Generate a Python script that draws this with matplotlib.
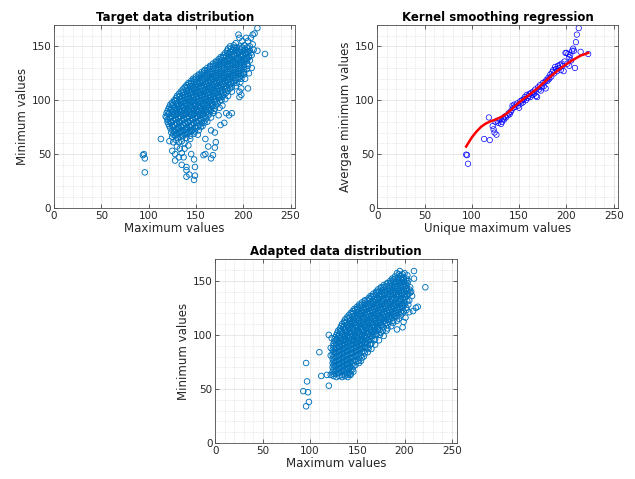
import matplotlib
matplotlib.use("Agg")
import matplotlib.pyplot as plt
from matplotlib.ticker import MultipleLocator

plt.rcParams['font.family'] = 'DejaVu Sans'

# target data (max, min)
target_points = [
    (215, 167), (210, 161), (212, 162), (195, 161),
    (196, 158), (203, 158), (208, 158), (199, 155), (205, 155), (192, 153), (210, 152),
    (186, 150), (190, 151), (193, 149), (197, 150), (201, 151), (204, 149), (207, 150), (215, 146), (223, 143), (211, 147),
    (183, 146), (186, 145), (189, 147), (192, 146), (195, 145), (198, 147), (201, 146), (204, 145), (207, 146),
    (179, 142), (182, 141), (185, 143), (188, 142), (191, 141), (194, 143), (197, 142), (200, 141), (203, 143), (206, 141), (209, 142),
    (174, 138), (177, 139), (180, 137), (183, 138), (186, 139), (189, 137), (192, 138), (195, 139), (198, 137), (201, 138), (204, 139), (207, 137),
    (168, 134), (171, 135), (174, 133), (177, 134), (180, 135), (183, 133), (186, 134), (189, 135), (192, 133), (195, 134), (198, 135), (201, 133), (204, 134),
    (162, 130), (165, 131), (168, 129), (171, 130), (174, 131), (177, 129), (180, 130), (183, 131), (186, 129), (189, 130), (192, 131), (195, 129), (198, 130), (201, 131), (204, 129), (209, 130), (205, 132),
    (156, 126), (159, 127), (162, 125), (165, 126), (168, 127), (171, 125), (174, 126), (177, 127), (180, 125), (183, 126), (186, 127), (189, 125), (192, 126), (195, 127), (198, 125), (201, 126), (206, 125), (200, 125),
    (150, 122), (153, 123), (156, 121), (159, 122), (162, 123), (165, 121), (168, 122), (171, 123), (174, 121), (177, 122), (180, 123), (183, 121), (186, 122), (189, 123), (192, 121), (195, 122), (198, 120), (202, 120),
    (145, 118), (148, 119), (151, 117), (154, 118), (157, 119), (160, 117), (163, 118), (166, 119), (169, 117), (172, 118), (175, 119), (178, 117), (181, 118), (184, 119), (187, 117), (190, 118), (193, 116), (197, 117),
    (140, 114), (143, 115), (146, 113), (149, 114), (152, 115), (155, 113), (158, 114), (161, 115), (164, 113), (167, 114), (170, 115), (173, 113), (176, 114), (179, 115), (182, 113), (185, 114), (188, 112), (192, 113), (198, 111), (205, 111),
    (136, 110), (139, 111), (142, 109), (145, 110), (148, 111), (151, 109), (154, 110), (157, 111), (160, 109), (163, 110), (166, 111), (169, 109), (172, 110), (175, 111), (178, 109), (181, 110), (184, 109), (188, 108), (196, 108),
    (132, 106), (135, 107), (138, 105), (141, 106), (144, 107), (147, 105), (150, 106), (153, 107), (156, 105), (159, 106), (162, 107), (165, 105), (168, 106), (171, 107), (174, 105), (177, 106), (180, 105), (184, 104), (198, 105),
    (129, 102), (132, 103), (135, 101), (138, 102), (141, 103), (144, 101), (147, 102), (150, 103), (153, 101), (156, 102), (159, 103), (162, 101), (165, 102), (168, 103), (171, 101), (174, 102), (177, 100), (181, 101), (196, 103),
    (125, 98), (128, 99), (131, 97), (134, 98), (137, 99), (140, 97), (143, 98), (146, 99), (149, 97), (152, 98), (155, 99), (158, 97), (161, 98), (164, 99), (167, 97), (170, 98), (173, 97), (178, 95),
    (122, 94), (125, 95), (128, 93), (131, 94), (134, 95), (137, 93), (140, 94), (143, 95), (146, 93), (149, 94), (152, 95), (155, 93), (158, 94), (161, 95), (164, 93), (167, 94), (170, 92), (175, 93),
    (120, 90), (123, 91), (126, 89), (129, 90), (132, 91), (135, 89), (138, 90), (141, 91), (144, 89), (147, 90), (150, 91), (153, 89), (156, 90), (159, 91), (162, 89), (165, 90), (168, 88), (174, 86),
    (118, 85), (121, 87), (124, 85), (127, 86), (130, 87), (133, 85), (136, 86), (139, 87), (142, 85), (145, 86), (148, 87), (151, 85), (154, 86), (157, 87), (160, 85), (163, 86), (166, 84), (182, 88), (188, 88), (185, 86),
    (120, 82), (123, 83), (126, 81), (129, 82), (132, 83), (135, 81), (138, 82), (141, 83), (144, 81), (147, 82), (150, 83), (153, 81), (156, 82), (159, 81), (162, 80), (180, 79),
    (121, 78), (124, 79), (127, 77), (130, 78), (133, 79), (136, 77), (139, 78), (142, 79), (145, 77), (148, 78), (151, 79), (154, 77), (157, 76), (176, 77),
    (123, 74), (126, 75), (129, 73), (132, 74), (135, 75), (138, 73), (141, 74), (144, 75), (147, 73), (150, 74), (153, 72), (166, 72), (170, 70),
    (124, 70), (127, 71), (130, 69), (133, 70), (136, 71), (139, 69), (142, 70), (145, 71), (148, 69), (152, 68),
    (125, 66), (128, 67), (131, 65), (134, 66), (137, 67), (140, 65), (144, 64), (160, 64),
    (122, 62), (126, 61), (129, 63), (132, 61), (135, 62), (138, 60), (142, 58), (113, 64), (171, 61), (163, 57),
    (125, 53), (128, 50), (128, 44), (132, 47), (135, 40), (137, 47), (140, 38), (140, 35), (140, 29), (143, 31),
    (148, 26), (149, 30), (149, 38), (148, 45), (145, 50), (133, 55), (138, 55), (158, 49), (160, 50), (166, 46),
    (168, 49), (170, 56), (135, 51), (130, 57),
    (95, 50), (94, 49), (96, 46), (96, 33),
]

# more target points in the dense core (between the rows above)
target_fill = [
    (184, 148), (187, 148), (190, 149), (193, 147), (196, 148), (199, 149), (202, 147), (205, 148),
    (181, 144), (184, 144), (187, 145), (190, 143), (193, 144), (196, 145), (199, 143), (202, 144), (205, 145), (208, 144),
    (176, 140), (179, 140), (182, 141), (185, 139), (188, 140), (191, 141), (194, 139), (197, 140), (200, 141), (203, 139), (206, 140),
    (171, 136), (174, 136), (177, 137), (180, 135), (183, 136), (186, 137), (189, 135), (192, 136), (195, 137), (198, 135), (201, 136), (204, 137),
    (165, 132), (168, 132), (171, 133), (174, 131), (177, 132), (180, 133), (183, 131), (186, 132), (189, 133), (192, 131), (195, 132), (198, 133), (201, 131),
    (159, 128), (162, 128), (165, 129), (168, 127), (171, 128), (174, 129), (177, 127), (180, 128), (183, 129), (186, 127), (189, 128), (192, 129), (195, 127), (198, 128), (201, 129),
    (153, 124), (156, 124), (159, 125), (162, 123), (165, 124), (168, 125), (171, 123), (174, 124), (177, 125), (180, 123), (183, 124), (186, 125), (189, 123), (192, 124), (195, 125), (198, 123), (201, 124),
    (147, 120), (150, 120), (153, 121), (156, 119), (159, 120), (162, 121), (165, 119), (168, 120), (171, 121), (174, 119), (177, 120), (180, 121), (183, 119), (186, 120), (189, 121), (192, 119), (195, 120),
    (142, 116), (145, 116), (148, 117), (151, 115), (154, 116), (157, 117), (160, 115), (163, 116), (166, 117), (169, 115), (172, 116), (175, 117), (178, 115), (181, 116), (184, 117), (187, 115), (190, 116),
    (138, 112), (141, 112), (144, 113), (147, 111), (150, 112), (153, 113), (156, 111), (159, 112), (162, 113), (165, 111), (168, 112), (171, 113), (174, 111), (177, 112), (180, 113), (183, 111), (186, 111),
    (134, 108), (137, 108), (140, 109), (143, 107), (146, 108), (149, 109), (152, 107), (155, 108), (158, 109), (161, 107), (164, 108), (167, 109), (170, 107), (173, 108), (176, 109), (179, 107), (182, 107),
    (130, 104), (133, 104), (136, 105), (139, 103), (142, 104), (145, 105), (148, 103), (151, 104), (154, 105), (157, 103), (160, 104), (163, 105), (166, 103), (169, 104), (172, 105), (175, 103), (178, 103),
    (127, 100), (130, 100), (133, 101), (136, 99), (139, 100), (142, 101), (145, 99), (148, 100), (151, 101), (154, 99), (157, 100), (160, 101), (163, 99), (166, 100), (169, 101), (172, 99), (175, 99),
    (123, 96), (126, 96), (129, 97), (132, 95), (135, 96), (138, 97), (141, 95), (144, 96), (147, 97), (150, 95), (153, 96), (156, 97), (159, 95), (162, 96), (165, 97), (168, 95), (171, 95),
    (121, 92), (124, 92), (127, 93), (130, 91), (133, 92), (136, 93), (139, 91), (142, 92), (145, 93), (148, 91), (151, 92), (154, 93), (157, 91), (160, 92), (163, 93), (166, 91), (169, 90),
    (119, 88), (122, 88), (125, 89), (128, 87), (131, 88), (134, 89), (137, 87), (140, 88), (143, 89), (146, 87), (149, 88), (152, 89), (155, 87), (158, 88), (161, 89), (164, 87),
    (119, 84), (122, 84), (125, 85), (128, 83), (131, 84), (134, 85), (137, 83), (140, 84), (143, 85), (146, 83), (149, 84), (152, 85), (155, 83), (158, 84), (161, 83),
    (120, 80), (123, 80), (126, 81), (129, 79), (132, 80), (135, 81), (138, 79), (141, 80), (144, 81), (147, 79), (150, 80), (153, 81), (156, 79), (159, 79),
    (122, 76), (125, 76), (128, 77), (131, 75), (134, 76), (137, 77), (140, 75), (143, 76), (146, 77), (149, 75), (152, 76), (155, 75),
    (125, 72), (128, 72), (131, 73), (134, 71), (137, 72), (140, 73), (143, 71), (146, 72), (149, 71),
    (126, 68), (129, 68), (132, 69), (135, 67), (138, 68), (141, 69), (144, 67),
]

# unique max values and the average min value for each
unique_max = [95, 94, 96, 113, 119, 118, 122, 123, 124, 126, 125, 127, 128, 130, 131, 132, 133, 134, 135, 136,
              138, 139, 140, 141, 142, 143, 144, 145, 146, 148, 149, 150, 151, 152, 153, 154, 155, 156, 157, 158,
              159, 160, 161, 162, 163, 164, 165, 166, 167, 168, 169, 170, 171, 172, 173, 174, 175, 176, 177, 178,
              179, 180, 181, 182, 183, 184, 185, 186, 187, 188, 189, 190, 191, 192, 193, 194, 195, 196, 197, 198,
              199, 200, 201, 202, 203, 204, 205, 206, 207, 208, 209, 210, 211, 213, 215, 223, 203]
avg_min = [49, 49.5, 41, 64, 63, 84, 76, 73, 70, 68, 80, 81, 79, 82, 78, 80, 83, 82, 85, 84,
           86, 88, 87, 89, 91, 95, 93, 96, 94, 97, 95, 93, 99, 97, 100, 98, 101, 103, 100, 105,
           102, 104, 106, 103, 107, 105, 108, 106, 110, 104, 103, 112, 110, 114, 109, 112, 116, 113, 117, 111,
           119, 118, 121, 120, 124, 122, 126, 128, 125, 131, 129, 127, 132, 130, 133, 128, 134, 132, 127, 136,
           144, 144, 134, 143, 140, 142, 137, 146, 148, 146, 130, 154, 161, 167, 145, 143, 132]

# kernel smoothing fit
fit_x = [94, 100, 105, 110, 115, 120, 125, 130, 135, 140, 145, 150, 155, 160,
         165, 170, 175, 180, 185, 190, 195, 200, 205, 210, 215, 220, 223]
fit_y = [57, 65.5, 71, 75.5, 78.5, 80.5, 82, 84, 86.5, 90, 94, 98, 101.5, 104.5,
         108, 111.5, 115.5, 119.5, 123.5, 127, 130.5, 133.5, 136.5, 139, 141.5, 143, 144]

# adapted data (max, min)
adapted_points = [
    (195, 159), (210, 159), (200, 157), (203, 155), (192, 157),
    (190, 154), (193, 153), (196, 155), (199, 153), (202, 152), (210, 152),
    (185, 150), (188, 151), (191, 149), (194, 150), (197, 151), (200, 149), (204, 150),
    (178, 146), (181, 147), (184, 145), (187, 146), (190, 147), (193, 145), (196, 146), (199, 147), (202, 145), (206, 144), (222, 144),
    (172, 142), (175, 143), (178, 141), (181, 142), (184, 143), (187, 141), (190, 142), (193, 143), (196, 141), (199, 142), (202, 143), (207, 140),
    (167, 138), (170, 139), (173, 137), (176, 138), (179, 139), (182, 137), (185, 138), (188, 139), (191, 137), (194, 138), (197, 139), (200, 137), (204, 138), (208, 136),
    (162, 134), (165, 135), (168, 133), (171, 134), (174, 135), (177, 133), (180, 134), (183, 135), (186, 133), (189, 134), (192, 135), (195, 133), (198, 134), (201, 135), (205, 132),
    (155, 130), (158, 131), (161, 129), (164, 130), (167, 131), (170, 129), (173, 130), (176, 131), (179, 129), (182, 130), (185, 131), (188, 129), (191, 130), (194, 131), (197, 129), (200, 130), (204, 128),
    (150, 126), (153, 127), (156, 125), (159, 126), (162, 127), (165, 125), (168, 126), (171, 127), (174, 125), (177, 126), (180, 127), (183, 125), (186, 126), (189, 127), (192, 125), (195, 126), (198, 127), (202, 125), (212, 125), (214, 126),
    (145, 122), (148, 123), (151, 121), (154, 122), (157, 123), (160, 121), (163, 122), (166, 123), (169, 121), (172, 122), (175, 123), (178, 121), (181, 122), (184, 123), (187, 121), (190, 122), (193, 123), (196, 121), (199, 122), (205, 121), (209, 122),
    (141, 118), (144, 119), (147, 117), (150, 118), (153, 119), (156, 117), (159, 118), (162, 119), (165, 117), (168, 118), (171, 119), (174, 117), (177, 118), (180, 119), (183, 117), (186, 118), (189, 119), (192, 117), (196, 118), (201, 116),
    (137, 114), (140, 115), (143, 113), (146, 114), (149, 115), (152, 113), (155, 114), (158, 115), (161, 113), (164, 114), (167, 115), (170, 113), (173, 114), (176, 115), (179, 113), (182, 114), (185, 115), (188, 113), (192, 113), (199, 112),
    (134, 110), (137, 111), (140, 109), (143, 110), (146, 111), (149, 109), (152, 110), (155, 111), (158, 109), (161, 110), (164, 111), (167, 109), (170, 110), (173, 111), (176, 109), (179, 110), (182, 109), (186, 108), (198, 107),
    (132, 106), (135, 107), (138, 105), (141, 106), (144, 107), (147, 105), (150, 106), (153, 107), (156, 105), (159, 106), (162, 107), (165, 105), (168, 106), (171, 107), (174, 105), (177, 104), (181, 104), (192, 105),
    (129, 102), (132, 103), (135, 101), (138, 102), (141, 103), (144, 101), (147, 102), (150, 103), (153, 101), (156, 102), (159, 103), (162, 101), (165, 102), (168, 103), (171, 101), (174, 100), (178, 99), (120, 100), (123, 97),
    (127, 98), (130, 99), (133, 97), (136, 98), (139, 99), (142, 97), (145, 98), (148, 99), (151, 97), (154, 98), (157, 99), (160, 97), (163, 98), (166, 99), (169, 96), (173, 95),
    (126, 94), (129, 95), (132, 93), (135, 94), (138, 95), (141, 93), (144, 94), (147, 95), (150, 93), (153, 94), (156, 95), (159, 93), (162, 94), (165, 92), (169, 91),
    (125, 90), (128, 91), (131, 89), (134, 90), (137, 91), (140, 89), (143, 90), (146, 91), (149, 89), (152, 90), (155, 91), (158, 89), (161, 88), (165, 87),
    (124, 86), (127, 87), (130, 85), (133, 86), (136, 87), (139, 85), (142, 86), (145, 87), (148, 85), (151, 86), (154, 87), (157, 85), (161, 84), (122, 88),
    (124, 82), (127, 83), (130, 81), (133, 82), (136, 83), (139, 81), (142, 82), (145, 83), (148, 81), (151, 82), (154, 81), (157, 80), (110, 84), (122, 81),
    (124, 78), (127, 79), (130, 77), (133, 78), (136, 79), (139, 77), (142, 78), (145, 79), (148, 77), (151, 76), (154, 76),
    (124, 74), (127, 75), (130, 73), (133, 74), (136, 75), (139, 73), (142, 74), (145, 73), (148, 72), (96, 74),
    (124, 70), (127, 71), (130, 69), (133, 70), (136, 71), (139, 69), (142, 70), (145, 68),
    (124, 66), (127, 67), (130, 65), (133, 66), (136, 67), (139, 65), (142, 65), (146, 66),
    (125, 62), (128, 61), (131, 62), (134, 61), (137, 62), (140, 61), (122, 63), (143, 63),
    (97, 57), (93, 48), (98, 47), (99, 38), (96, 34), (112, 62), (118, 63), (120, 53),
]

# more adapted points in the dense core
adapted_fill = [
    (194, 156), (198, 156),
    (187, 152), (190, 152), (193, 151), (196, 152), (199, 151), (202, 150),
    (182, 148), (185, 148), (188, 149), (191, 147), (194, 148), (197, 149), (200, 147), (203, 148),
    (175, 144), (178, 144), (181, 145), (184, 143), (187, 144), (190, 145), (193, 143), (196, 144), (199, 145), (202, 143), (205, 142),
    (170, 140), (173, 140), (176, 141), (179, 139), (182, 140), (185, 141), (188, 139), (191, 140), (194, 141), (197, 139), (200, 140), (203, 141), (206, 139),
    (164, 136), (167, 136), (170, 137), (173, 135), (176, 136), (179, 137), (182, 135), (185, 136), (188, 137), (191, 135), (194, 136), (197, 137), (200, 135), (203, 136),
    (158, 132), (161, 132), (164, 133), (167, 131), (170, 132), (173, 133), (176, 131), (179, 132), (182, 133), (185, 131), (188, 132), (191, 133), (194, 131), (197, 132), (200, 133), (203, 131),
    (152, 128), (155, 128), (158, 129), (161, 127), (164, 128), (167, 129), (170, 127), (173, 128), (176, 129), (179, 127), (182, 128), (185, 129), (188, 127), (191, 128), (194, 129), (197, 127), (200, 128),
    (147, 124), (150, 124), (153, 125), (156, 123), (159, 124), (162, 125), (165, 123), (168, 124), (171, 125), (174, 123), (177, 124), (180, 125), (183, 123), (186, 124), (189, 125), (192, 123), (195, 124), (198, 125), (202, 123),
    (143, 120), (146, 120), (149, 121), (152, 119), (155, 120), (158, 121), (161, 119), (164, 120), (167, 121), (170, 119), (173, 120), (176, 121), (179, 119), (182, 120), (185, 121), (188, 119), (191, 120), (194, 121), (198, 120),
    (139, 116), (142, 116), (145, 117), (148, 115), (151, 116), (154, 117), (157, 115), (160, 116), (163, 117), (166, 115), (169, 116), (172, 117), (175, 115), (178, 116), (181, 117), (184, 115), (187, 116), (190, 117), (194, 115),
    (136, 112), (139, 112), (142, 113), (145, 111), (148, 112), (151, 113), (154, 111), (157, 112), (160, 113), (163, 111), (166, 112), (169, 113), (172, 111), (175, 112), (178, 113), (181, 111), (184, 112), (188, 111),
    (133, 108), (136, 108), (139, 109), (142, 107), (145, 108), (148, 109), (151, 107), (154, 108), (157, 109), (160, 107), (163, 108), (166, 109), (169, 107), (172, 108), (175, 109), (178, 107), (182, 106),
    (130, 104), (133, 104), (136, 105), (139, 103), (142, 104), (145, 105), (148, 103), (151, 104), (154, 105), (157, 103), (160, 104), (163, 105), (166, 103), (169, 104), (172, 105), (175, 102),
    (128, 100), (131, 100), (134, 101), (137, 99), (140, 100), (143, 101), (146, 99), (149, 100), (152, 101), (155, 99), (158, 100), (161, 101), (164, 99), (167, 100), (170, 100),
    (126, 96), (129, 96), (132, 97), (135, 95), (138, 96), (141, 97), (144, 95), (147, 96), (150, 97), (153, 95), (156, 96), (159, 97), (162, 95), (165, 96), (168, 95),
    (125, 92), (128, 92), (131, 93), (134, 91), (137, 92), (140, 93), (143, 91), (146, 92), (149, 93), (152, 91), (155, 92), (158, 93), (161, 91), (164, 91),
    (125, 88), (128, 88), (131, 89), (134, 87), (137, 88), (140, 89), (143, 87), (146, 88), (149, 89), (152, 87), (155, 88), (158, 88), (162, 87),
    (125, 84), (128, 84), (131, 85), (134, 83), (137, 84), (140, 85), (143, 83), (146, 84), (149, 85), (152, 83), (155, 84), (158, 83),
    (125, 80), (128, 80), (131, 81), (134, 79), (137, 80), (140, 81), (143, 79), (146, 80), (149, 81), (152, 79), (155, 79),
    (125, 76), (128, 76), (131, 77), (134, 75), (137, 76), (140, 77), (143, 75), (146, 76), (149, 75), (152, 74),
    (125, 72), (128, 72), (131, 73), (134, 71), (137, 72), (140, 73), (143, 71), (146, 71),
    (125, 68), (128, 68), (131, 69), (134, 67), (137, 68), (140, 69), (143, 67),
    (125, 64), (128, 64), (131, 65), (134, 63), (137, 64), (140, 63), (143, 64),
]

target_max = [p[0] for p in target_points + target_fill]
target_min = [p[1] for p in target_points + target_fill]
adapted_max = [p[0] for p in adapted_points + adapted_fill]
adapted_min = [p[1] for p in adapted_points + adapted_fill]

txt = '#262626'
mcolor = '#0072BD'


def style(ax, title, xlabel, ylabel):
    ax.set_xlim(0, 255)
    ax.set_ylim(0, 170)
    ax.xaxis.set_major_locator(MultipleLocator(50))
    ax.yaxis.set_major_locator(MultipleLocator(50))
    ax.xaxis.set_minor_locator(MultipleLocator(10))
    ax.yaxis.set_minor_locator(MultipleLocator(10))
    ax.grid(True, which='major', color=txt, alpha=0.15, lw=0.5)
    ax.grid(True, which='minor', color=txt, alpha=0.2, lw=0.5, ls=':')
    ax.set_axisbelow(True)
    ax.tick_params(which='major', direction='in', length=3, width=0.5,
                   top=True, right=True, labelsize=7.5, colors=txt, pad=2)
    ax.tick_params(which='minor', length=0)
    for s in ax.spines.values():
        s.set_color('#4d4d4d')
        s.set_linewidth(0.6)
    ax.set_title(title, fontsize=8.5, fontweight='bold', color='black', pad=3)
    ax.set_xlabel(xlabel, fontsize=8.5, color=txt, labelpad=1)
    ax.set_ylabel(ylabel, fontsize=8.5, color=txt, labelpad=2)


fig = plt.figure(figsize=(6.35, 4.79), dpi=100)

ax1 = fig.add_axes([0.085, 0.566, 0.38, 0.382])
ax1.scatter(target_max, target_min, s=16, facecolors='none', edgecolors=mcolor, linewidths=0.65)
style(ax1, 'Target data distribution', 'Maximum values', 'Minimum values')

ax2 = fig.add_axes([0.594, 0.566, 0.38, 0.382])
ax2.scatter(unique_max, avg_min, s=15, facecolors='none', edgecolors='#0000ff', linewidths=0.5)
ax2.plot(fit_x, fit_y, color='red', lw=1.8)
style(ax2, 'Kernel smoothing regression', 'Unique maximum values', 'Avergae minimum values')

ax3 = fig.add_axes([0.339, 0.075, 0.38, 0.384])
ax3.scatter(adapted_max, adapted_min, s=16, facecolors='none', edgecolors=mcolor, linewidths=0.65)
style(ax3, 'Adapted data distribution', 'Maximum values', 'Minimum values')

fig.savefig('out.png', dpi=100)
